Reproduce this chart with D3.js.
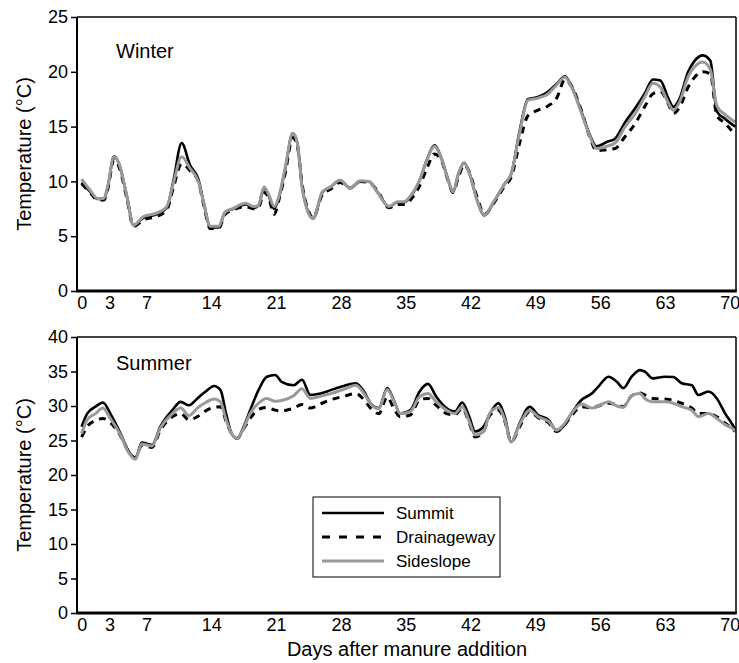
<!DOCTYPE html>
<html lang="en">
  <head>
    <meta charset="utf-8"/>
    <title>Temperature after manure addition</title>
    <script src="https://d3js.org/d3.v7.min.js"></script>
    <style>
      body { margin: 0; background: #fff; }
      text { font-family: "Liberation Sans", Arial, sans-serif; fill: #000; }
    </style>
  </head>
  <body>
    <div id="chart"></div>
    <script>
    // ---- data ----
    var xTicks = [0, 3, 7, 14, 21, 28, 35, 42, 49, 56, 63, 70];

    var winterDays = [0, 1, 1.7, 2.4, 2.8, 3.5, 4.0, 4.9, 5.6, 6.7, 8.1, 9.2, 9.9, 10.8, 11.7, 12.6, 13.2, 13.9, 14.8, 15.5,
      16.4, 17.7, 18.6, 19.1, 19.7, 20.2, 20.8, 21.3, 22.0, 22.8, 23.3, 23.8, 24.3, 25.0, 26.0, 26.9, 27.9, 29.0, 30.1, 31.0,
      31.9, 33.2, 34.1, 34.8, 35.6, 36.5, 37.3, 38.1, 38.9, 39.6, 40.1, 40.7, 41.3, 41.9, 42.7, 43.5, 44.5, 45.7, 46.4, 47.3,
      48.2, 49.3, 50.4, 51.3, 52.2, 52.9, 54.0, 54.9, 55.6, 56.7, 57.6, 58.7, 59.8, 60.8, 61.7, 62.5, 63.4, 63.9, 64.6, 65.5,
      66.2, 67.1, 67.9, 68.6, 69.5, 70.6];
    var winterSummit = [9.9, 9.0, 8.4, 8.4, 9.4, 12.3, 11.7, 8.6, 6.0, 6.7, 7.0, 7.6, 10.0, 13.5, 11.5, 10.2, 8.0, 5.8, 5.8, 7.2,
      7.5, 7.9, 7.6, 7.8, 9.4, 8.7, 7.5, 8.5, 11.2, 14.4, 13.5, 9.6, 7.6, 6.6, 9.0, 9.5, 10.1, 9.4, 10.0, 10.0,
      9.1, 7.7, 8.1, 8.1, 8.7, 10.1, 12.0, 13.3, 12.0, 10.1, 9.0, 10.7, 11.7, 10.7, 8.3, 6.9, 8.1, 9.8, 10.7, 14.6,
      17.5, 17.7, 18.2, 18.9, 19.6, 18.7, 16.3, 14.2, 13.2, 13.6, 13.9, 15.4, 16.7, 18.0, 19.3, 19.2, 17.5, 16.8, 17.6, 20.0,
      21.0, 21.5, 21.0, 16.4, 15.7, 15.0];
    var winterDrainageway = [9.8, 8.9, 8.3, 8.3, 9.2, 12.0, 11.4, 8.4, 5.9, 6.5, 6.8, 7.4, 9.4, 11.6, 11.0, 10.0, 7.8, 5.7, 5.7, 7.0,
      7.4, 7.7, 7.5, 7.6, 9.0, 8.5, 7.0, 8.3, 10.8, 14.0, 13.2, 9.8, 7.8, 6.7, 8.8, 9.3, 9.9, 9.4, 10.0, 9.9,
      9.2, 7.6, 7.9, 7.9, 8.4, 9.6, 11.2, 12.5, 11.8, 10.0, 9.0, 10.4, 11.5, 10.8, 8.6, 7.0, 8.0, 9.6, 10.4, 13.5,
      16.0, 16.5, 16.9, 17.6, 19.3, 18.7, 16.4, 14.0, 12.8, 12.9, 13.0, 14.1, 15.3, 16.8, 18.0, 18.2, 17.0, 16.2, 16.8, 18.6,
      19.5, 20.0, 19.8, 16.0, 15.3, 14.2];
    var winterSideslope = [10.2, 9.1, 8.45, 8.45, 9.5, 12.25, 11.7, 8.6, 6.0, 6.8, 7.1, 7.7, 9.8, 12.25, 11.2, 10.0, 8.0, 5.9, 5.9, 7.2,
      7.55, 8.0, 7.7, 7.8, 9.5, 8.8, 7.7, 8.6, 11.3, 14.4, 13.5, 9.5, 7.55, 6.6, 9.06, 9.5, 10.1, 9.4, 10.06, 10.0,
      9.06, 7.7, 8.15, 8.15, 8.76, 10.1, 11.95, 13.2, 11.95, 10.1, 9.06, 10.7, 11.65, 10.7, 8.3, 6.93, 8.15, 9.8, 10.7, 14.4,
      17.4, 17.6, 18.0, 18.8, 19.5, 18.6, 16.2, 14.1, 13.0, 13.2, 13.5, 15.0, 16.2, 17.7, 18.95, 18.6, 17.1, 16.5, 17.3, 19.55,
      20.45, 20.9, 20.2, 16.9, 16.1, 15.4];

    var summerDays = [0, 0.6, 1.5, 2.3, 3.1, 4.2, 5.1, 5.8, 6.5, 7.6, 8.5, 9.8, 10.7, 11.6, 12.5, 13.4, 14.3, 15.0, 15.6, 16.2,
      16.8, 17.5, 18.2, 19.1, 20.0, 20.9, 21.6, 22.9, 23.8, 24.7, 25.8, 26.9, 28.3, 29.6, 30.5, 31.2, 32.1, 33.0, 33.7, 34.4,
      35.5, 36.5, 37.4, 38.3, 39.4, 40.3, 41.1, 41.8, 42.5, 43.4, 44.1, 45.0, 45.7, 46.4, 47.3, 48.4, 49.3, 50.4, 51.3, 52.0,
      52.9, 54.0, 55.1, 55.8, 56.9, 57.8, 58.5, 59.4, 60.3, 60.8, 61.7, 63.0, 63.9, 64.8, 65.9, 66.6, 67.7, 68.6, 69.5, 70.2,
      70.6];
    var summerSummit = [27.0, 28.9, 29.9, 30.5, 28.9, 26.0, 23.4, 22.4, 24.7, 24.35, 27.0, 29.4, 30.6, 30.1, 31.1, 32.1, 32.9, 32.3, 28.9, 26.0,
      25.3, 27.0, 29.4, 32.3, 34.25, 34.5, 33.5, 33.0, 33.8, 31.6, 31.8, 32.3, 32.9, 33.3, 32.1, 30.4, 29.7, 32.6, 30.9, 28.9,
      29.4, 32.1, 33.2, 31.35, 29.7, 29.2, 30.5, 28.7, 26.3, 27.0, 28.9, 30.4, 28.45, 24.8, 27.5, 29.9, 28.7, 28.0, 26.5, 27.0,
      28.9, 30.9, 31.8, 32.8, 34.25, 33.5, 32.6, 34.25, 35.2, 35.0, 34.0, 34.25, 34.2, 33.3, 33.0, 31.6, 32.1, 31.1, 28.9, 27.5,
      26.6];
    var summerDrainageway = [25.5, 27.0, 27.9, 28.2, 27.6, 25.7, 23.3, 22.5, 24.3, 24.0, 26.5, 28.45, 28.9, 28.0, 28.45, 29.3, 29.8, 29.9, 27.8, 26.0,
      25.3, 26.7, 28.2, 29.5, 29.8, 29.4, 29.3, 29.7, 30.2, 29.7, 30.3, 30.9, 31.4, 31.8, 30.9, 29.7, 28.9, 31.3, 29.7, 28.45,
      28.7, 30.9, 31.1, 30.1, 28.9, 28.7, 29.7, 27.8, 25.5, 26.3, 28.7, 29.4, 27.8, 24.8, 27.0, 29.2, 28.3, 27.6, 26.3, 27.0,
      28.6, 29.9, 29.7, 30.0, 30.4, 30.2, 29.9, 31.5, 31.9, 31.6, 31.1, 31.0, 30.8, 30.4, 29.7, 28.9, 28.9, 28.45, 27.5, 26.8,
      26.3];
    var summerSideslope = [26.0, 28.0, 28.9, 29.7, 28.2, 25.8, 23.2, 22.3, 24.5, 24.2, 26.8, 28.9, 29.7, 28.6, 29.7, 30.5, 31.0, 30.6, 28.0, 26.0,
      25.3, 26.8, 28.9, 30.4, 31.1, 30.7, 30.8, 31.5, 32.5, 31.1, 31.4, 31.8, 32.4, 33.0, 31.8, 30.3, 29.6, 32.4, 30.8, 28.9,
      29.2, 31.35, 31.8, 30.6, 29.4, 28.9, 29.9, 28.0, 25.8, 26.3, 29.0, 29.8, 28.0, 24.8, 27.3, 29.4, 28.45, 27.8, 26.5, 27.2,
      28.9, 30.3, 29.7, 30.0, 30.6, 30.0, 29.8, 31.5, 31.8, 31.1, 30.6, 30.6, 30.4, 29.9, 29.4, 28.45, 28.9, 28.2, 27.3, 26.8,
      26.4];

    var seriesNames = ["Summit", "Drainageway", "Sideslope"];

    // ---- layout ----
    var width = 739, height = 663;
    var left = 77, right = 736;

    var svg = d3.select("#chart").append("svg")
        .attr("width", width)
        .attr("height", height);

    var x = d3.scaleLinear().domain([-0.5, 70.67]).range([left, right]);

    var styles = {
      Summit: { stroke: "#000", width: 2.6, dash: null },
      Drainageway: { stroke: "#000", width: 3, dash: "7,6" },
      Sideslope: { stroke: "#999", width: 3, dash: null }
    };

    function drawPanel(top, bottom, yMax, days, series, title, titleY) {
      var y = d3.scaleLinear().domain([0, yMax]).range([bottom, top]);
      var g = svg.append("g");

      // y axis
      var yAxis = g.append("g")
          .attr("transform", "translate(" + left + ",0)")
          .call(d3.axisLeft(y).tickValues(d3.range(0, yMax + 1, 5)).tickSize(6).tickPadding(3));
      yAxis.select(".domain").remove();
      yAxis.selectAll(".tick line").attr("stroke", "#000").attr("stroke-width", 1.5);
      yAxis.selectAll("text").style("font-size", "18px").attr("fill", "#000");

      // x labels, no tick marks
      var xAxis = g.append("g")
          .attr("transform", "translate(0," + bottom + ")")
          .call(d3.axisBottom(x).tickValues(xTicks).tickSize(0).tickPadding(5));
      xAxis.select(".domain").remove();
      xAxis.selectAll("text").style("font-size", "18px").attr("fill", "#000");

      // lines
      var line = d3.line()
          .x(function(d) { return x(d[0]); })
          .y(function(d) { return y(d[1]); })
          .curve(d3.curveMonotoneX);

      var clipId = "clip" + top;
      g.append("clipPath").attr("id", clipId)
        .append("rect").attr("x", left).attr("y", top).attr("width", right - left).attr("height", bottom - top);

      ["Drainageway", "Summit", "Sideslope"].forEach(function(name) {
        var pts = days.map(function(d, i) { return [d, series[name][i]]; });
        var s = styles[name];
        g.append("path")
          .attr("clip-path", "url(#" + clipId + ")")
          .attr("d", line(pts))
          .attr("fill", "none")
          .attr("stroke", s.stroke)
          .attr("stroke-width", s.width)
          .attr("stroke-dasharray", s.dash)
          .attr("stroke-linejoin", "round");
      });

      // frame: thin top/right, heavier left/bottom
      g.append("line").attr("x1", left).attr("x2", right).attr("y1", top).attr("y2", top)
        .attr("stroke", "#000").attr("stroke-width", 1.5);
      g.append("line").attr("x1", right).attr("x2", right).attr("y1", top).attr("y2", bottom)
        .attr("stroke", "#000").attr("stroke-width", 1.5);
      g.append("line").attr("x1", left).attr("x2", left).attr("y1", top).attr("y2", bottom)
        .attr("stroke", "#000").attr("stroke-width", 2);
      g.append("line").attr("x1", left - 1).attr("x2", right + 0.75).attr("y1", bottom).attr("y2", bottom)
        .attr("stroke", "#000").attr("stroke-width", 3);

      g.append("text")
        .attr("x", 116).attr("y", titleY)
        .style("font-size", "20px")
        .text(title);

      g.append("text")
        .attr("transform", "translate(31," + ((top + bottom) / 2) + ") rotate(-90)")
        .attr("text-anchor", "middle")
        .style("font-size", "20px")
        .text("Temperature (°C)");

      return y;
    }

    drawPanel(17, 291, 25, winterDays,
      { Summit: winterSummit, Drainageway: winterDrainageway, Sideslope: winterSideslope }, "Winter", 58);
    drawPanel(337, 613, 40, summerDays,
      { Summit: summerSummit, Drainageway: summerDrainageway, Sideslope: summerSideslope }, "Summer", 370);

    svg.append("text")
      .attr("x", 407).attr("y", 656)
      .attr("text-anchor", "middle")
      .style("font-size", "20px")
      .text("Days after manure addition");

    // legend
    var legend = svg.append("g").attr("transform", "translate(313,497)");
    legend.append("rect")
      .attr("width", 187).attr("height", 80)
      .attr("fill", "#fff").attr("stroke", "#000").attr("stroke-width", 1);
    seriesNames.forEach(function(name, i) {
      var s = styles[name];
      var ly = 16 + i * 24;
      legend.append("line")
        .attr("x1", 9).attr("x2", 71).attr("y1", ly).attr("y2", ly)
        .attr("stroke", s.stroke).attr("stroke-width", s.width)
        .attr("stroke-dasharray", s.dash ? "8,9" : null);
      legend.append("text")
        .attr("x", 83).attr("y", ly + 6)
        .style("font-size", "17px")
        .text(name);
    });
    </script>
  </body>
</html>
